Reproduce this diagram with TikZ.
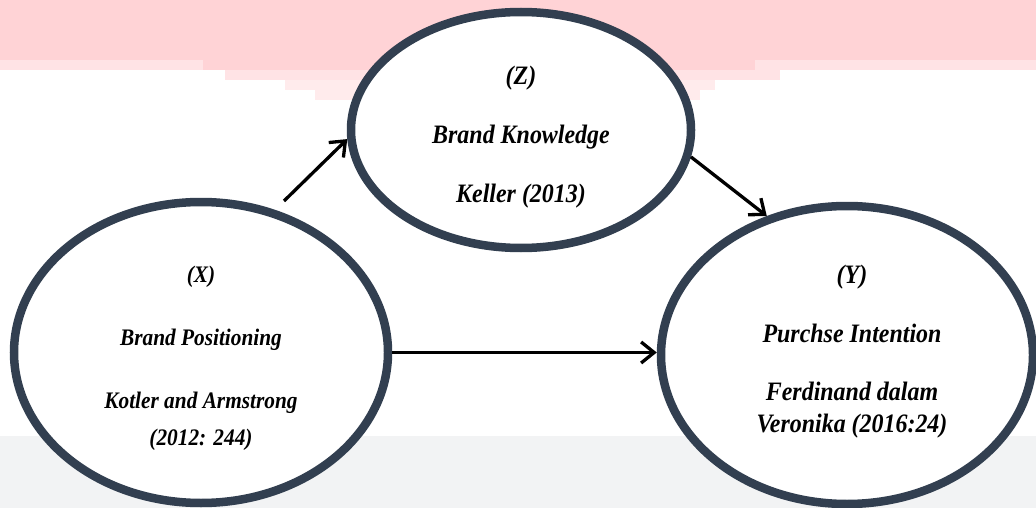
\documentclass[tikz,border=0pt]{standalone}
\usepackage{fontspec}
\setmainfont[FakeStretch=0.9]{Liberation Serif}
\usetikzlibrary{arrows.meta,shapes.geometric}
\definecolor{ringc}{HTML}{323F50}
\definecolor{pinkA}{HTML}{FFD3D6}
\definecolor{pinkB}{HTML}{FFE3E5}
\definecolor{pinkC}{HTML}{FFEBEC}
\definecolor{grayband}{HTML}{F2F3F4}
\begin{document}
\begin{tikzpicture}[x=1pt,y=-1pt,
  ring/.style={ellipse, draw=ringc, line width=8.5pt, fill=white, inner sep=0pt},
  lbl/.style={anchor=base, inner sep=0pt, font=\bfseries\itshape\fontsize{26.6}{29}\selectfont},
  lblx/.style={anchor=base, inner sep=0pt, font=\bfseries\itshape\fontsize{23.7}{26}\selectfont},
  arr/.style={-{Straight Barb[length=13pt,width=21pt]}, line width=3.3pt, black}]
\useasboundingbox (0,0) rectangle (1036,508);
% background bands
\fill[pinkA] (0,0) rectangle (1036,60);
\fill[pinkB] (0,60) rectangle (1036,70);
\fill[pinkA] (203,60) rectangle (755,70);
\fill[pinkB] (225,70) rectangle (780,80);
\fill[pinkC] (285,80) rectangle (715,90);
\fill[pinkC] (315,90) rectangle (700,100);
\fill[grayband] (0,436) rectangle (1036,508);
% ellipses
\node[ring, minimum width=374pt, minimum height=301pt] (X) at (201,352.5) {};
\node[ring, minimum width=340pt, minimum height=236pt] (Z) at (521,130) {};
\node[ring, minimum width=372pt, minimum height=298pt] (Y) at (847,355) {};
% texts
\node[lbl] (zt1) at (521,85) {(Z)};
\node[lbl] (zt2) at (521,143) {Brand Knowledge};
\node[lbl] (zt3) at (521,202) {Keller (2013)};
\node[lblx] (xt1) at (201,282) {(X)};
\node[lblx] (xt2) at (201,345) {Brand Positioning};
\node[lblx] (xt3) at (201,408) {Kotler and Armstrong};
\node[lblx] (xt4) at (201,445) {(2012: 244)};
\node[lbl] (yt1) at (852,283) {(Y)};
\node[lbl] (yt2) at (852,342) {Purchse Intention};
\node[lbl] (yt3) at (852,400) {Ferdinand dalam};
\node[lbl] (yt4) at (852,432) {Veronika (2016:24)};
% connectors
\coordinate (xzs) at (284,201);
\draw[arr] (xzs) -- (Z.183);
\draw[arr] (Z.-9) -- (Y.120);
\draw[arr] (X.east) -- (X.east -| Y.west);
\end{tikzpicture}
\end{document}
